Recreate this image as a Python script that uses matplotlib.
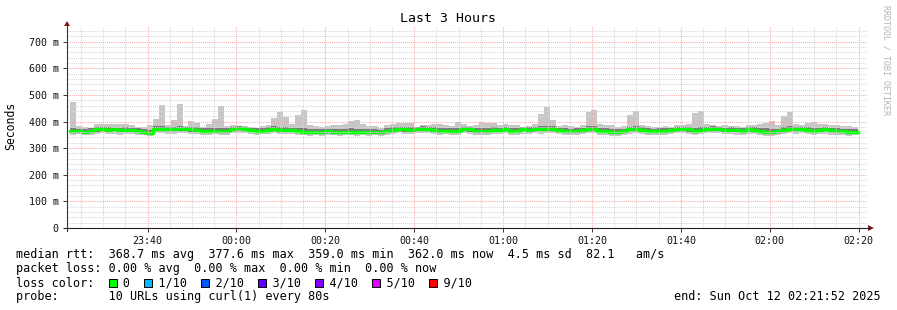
import matplotlib
matplotlib.use("Agg")
import matplotlib.pyplot as plt
from matplotlib.patches import Rectangle, Polygon
from matplotlib.lines import Line2D
import numpy as np

# ---------------- data (ms) ----------------
step_s = 80            # probe interval
first_step_s = 40      # first step start, seconds after window start (23:21:52)
window_min = 180

rtt_max = [472, 385, 380, 376, 390, 391, 391, 390, 390, 389,
           386, 380, 378, 388, 410, 462, 386, 406, 466, 385,
           403, 395, 380, 392, 410, 460, 382, 386, 385, 384,
           380, 376, 382, 388, 413, 436, 417, 391, 425, 444,
           388, 385, 380, 384, 388, 386, 391, 402, 404, 392,
           385, 382, 376, 386, 390, 394, 395, 393, 380, 386,
           388, 392, 390, 386, 385, 398, 392, 385, 387, 398,
           394, 395, 386, 390, 388, 386, 380, 385, 392, 428,
           455, 406, 385, 386, 382, 380, 386, 436, 443, 390,
           388, 386, 380, 382, 425, 440, 386, 384, 380, 378,
           382, 380, 386, 388, 390, 432, 440, 391, 388, 384,
           386, 382, 384, 380, 386, 388, 390, 395, 402, 388,
           421, 436, 392, 388, 394, 398, 390, 392, 388, 386,
           384, 382, 380]

rtt_hi = [374, 372, 370, 374, 378, 380, 378, 377, 376, 378,
          376, 374, 370, 368, 382, 384, 380, 381, 383, 380,
          380, 378, 375, 374, 376, 374, 374, 381, 382, 380,
          377, 374, 374, 378, 382, 380, 379, 377, 376, 374,
          371, 370, 370, 373, 372, 370, 371, 374, 372, 371,
          370, 371, 368, 374, 378, 381, 380, 379, 380, 382,
          381, 378, 376, 374, 375, 376, 381, 379, 375, 377,
          376, 378, 376, 381, 374, 375, 379, 378, 381, 384,
          384, 382, 377, 375, 373, 374, 377, 382, 384, 376,
          374, 372, 370, 372, 380, 382, 378, 375, 373, 376,
          374, 376, 381, 380, 379, 376, 378, 381, 382, 380,
          377, 378, 376, 375, 379, 378, 376, 374, 372, 373,
          379, 382, 380, 381, 378, 376, 377, 379, 376, 374,
          372, 371, 370]

rtt_median = [365, 364, 362, 366, 370, 371, 369, 370, 368, 369,
              367, 366, 361, 358, 372, 373, 371, 372, 374, 372,
              370, 369, 366, 365, 366, 364, 365, 373, 374, 371,
              368, 366, 365, 369, 370, 367, 368, 368, 365, 362,
              361, 360, 361, 363, 361, 360, 360, 362, 359, 361,
              360, 362, 359, 364, 368, 371, 370, 369, 371, 373,
              372, 368, 366, 365, 366, 364, 372, 370, 366, 365,
              366, 368, 367, 371, 364, 366, 370, 369, 372, 371,
              373, 372, 368, 366, 364, 365, 368, 371, 373, 366,
              364, 362, 361, 363, 370, 371, 368, 366, 364, 366,
              365, 367, 372, 371, 370, 366, 368, 372, 373, 371,
              368, 369, 367, 366, 370, 368, 366, 362, 361, 363,
              369, 371, 370, 372, 368, 366, 368, 370, 367, 365,
              363, 362, 362]

rtt_lo = [358, 356, 355, 358, 362, 364, 361, 363, 360, 362,
          360, 358, 354, 352, 364, 366, 363, 365, 366, 365,
          362, 361, 358, 357, 359, 356, 358, 366, 367, 363,
          361, 358, 358, 362, 363, 360, 360, 361, 357, 355,
          354, 353, 353, 356, 353, 352, 353, 355, 352, 354,
          353, 355, 352, 357, 361, 364, 362, 361, 364, 366,
          365, 360, 358, 358, 358, 356, 365, 362, 358, 357,
          359, 361, 360, 364, 356, 358, 363, 361, 365, 364,
          366, 364, 361, 358, 356, 357, 360, 364, 366, 358,
          356, 354, 353, 355, 363, 364, 360, 358, 356, 359,
          357, 360, 365, 364, 362, 358, 360, 365, 366, 364,
          361, 362, 359, 358, 363, 360, 358, 354, 353, 355,
          362, 364, 363, 365, 360, 358, 361, 363, 359, 357,
          355, 354, 355]

rtt_min = [350, 352, 349, 350, 354, 356, 353, 352, 350, 354,
           352, 350, 348, 346, 355, 356, 354, 352, 356, 357,
           354, 352, 350, 348, 352, 350, 351, 356, 358, 355,
           353, 350, 352, 354, 355, 352, 352, 353, 350, 348,
           346, 348, 347, 350, 348, 346, 348, 350, 347, 349,
           347, 350, 346, 350, 353, 356, 354, 352, 355, 356,
           355, 352, 350, 352, 350, 348, 356, 354, 350, 349,
           351, 353, 352, 355, 350, 351, 354, 352, 356, 354,
           357, 355, 352, 350, 349, 350, 352, 355, 356, 350,
           349, 347, 346, 348, 354, 356, 352, 350, 349, 351,
           350, 352, 356, 355, 353, 350, 352, 356, 357, 355,
           352, 353, 351, 350, 354, 352, 350, 347, 346, 348,
           353, 355, 354, 356, 352, 350, 352, 354, 351, 350,
           348, 347, 348]

y_ticks = [0, 100, 200, 300, 400, 500, 600, 700]
y_tick_labels = ["0", "100 m", "200 m", "300 m", "400 m", "500 m", "600 m", "700 m"]
x_tick_labels = ["23:40", "00:00", "00:20", "00:40", "01:00", "01:20", "01:40", "02:00", "02:20"]
first_tick_min = 18 + 8 / 60     # 23:40 relative to 23:21:52

legend_lines = [
    "median rtt:  368.7 ms avg  377.6 ms max  359.0 ms min  362.0 ms now  4.5 ms sd  82.1   am/s",
    "packet loss: 0.00 % avg  0.00 % max  0.00 % min  0.00 % now",
    "loss color:    0    1/10    2/10    3/10    4/10    5/10    9/10",
    "probe:       10 URLs using curl(1) every 80s",
]
loss_cols = [13, 18, 26, 34, 42, 50, 58]
loss_colors = ["#00ff00", "#00b8ff", "#0059ff", "#5e00ff", "#7e00ff", "#dd00ff", "#ff0000"]
end_text = "end: Sun Oct 12 02:21:52 2025"

# ---------------- figure ----------------
W, H = 897, 310
fig = plt.figure(figsize=(W / 100, H / 100), dpi=100)
fig.patch.set_facecolor("white")
MONO = "DejaVu Sans Mono"


def fx(px):
    return px / W


def fy(py):
    return 1 - py / H


L, R, T, B = 67, 867, 27, 228
ax = fig.add_axes([fx(L), fy(B), (R - L) / W, (B - T) / H])
ax.set_facecolor("white")
ax.set_xlim(0, window_min)
ax.set_ylim(0, 755)
for s in ax.spines.values():
    s.set_visible(False)

n = len(rtt_median)
edges = (first_step_s + step_s * np.arange(n + 1)) / 60.0


def ext(a):
    a = np.asarray(a, dtype=float)
    return np.append(a, a[-1])


ax.fill_between(edges, ext(rtt_min), ext(rtt_max), step="post",
                color="#c6c6c6", lw=0, zorder=1)
ax.fill_between(edges, ext(rtt_lo), ext(rtt_hi), step="post",
                color="#7c7c7c", lw=0, zorder=2)
ax.step(edges, ext(rtt_median), where="post", color="#00ff00", lw=2.4, zorder=4)

# grid
dot = (0, (1, 1))
for m in np.arange(first_tick_min - 15, window_min, 5):
    if m <= 0:
        continue
    major = abs(((m - first_tick_min) / 20) - round((m - first_tick_min) / 20)) < 1e-6
    ax.axvline(m, color="#ffa8a8" if major else "#d6d6d6", lw=0.75,
               ls=dot, zorder=5)
for v in range(20, 760, 20):
    major = v % 100 == 0
    ax.axhline(v, color="#ffa8a8" if major else "#d6d6d6", lw=0.75,
               ls=dot, zorder=5)

# ticks
x_ticks = [first_tick_min + 20 * i for i in range(len(x_tick_labels))]
ax.set_xticks(x_ticks)
ax.set_xticklabels(x_tick_labels, family=MONO, fontsize=7.2, color="#111")
ax.set_yticks(y_ticks)
ax.set_yticklabels(y_tick_labels, family=MONO, fontsize=7.2, color="#111")
ax.tick_params(axis="both", which="major", length=3, width=0.7, color="#333", pad=3)

# axis lines + arrows
fig.add_artist(Line2D([fx(L), fx(L)], [fy(B + 3), fy(23)], color="#333", lw=0.8))
fig.add_artist(Line2D([fx(L - 3), fx(870)], [fy(B), fy(B)], color="#222", lw=0.8))
fig.add_artist(Polygon([[fx(64), fy(26)], [fx(70), fy(26)], [fx(67), fy(21)]],
                       closed=True, color="#8b1a1a", lw=0))
fig.add_artist(Polygon([[fx(868), fy(225)], [fx(868), fy(231)], [fx(874), fy(228)]],
                       closed=True, color="#8b1a1a", lw=0))

# titles / labels
fig.text(fx(448), fy(19), "Last 3 Hours", family=MONO, fontsize=9.5,
         ha="center", va="center", color="#000")
fig.text(fx(11), fy(126), "Seconds", family=MONO, fontsize=8.3, rotation=90,
         ha="center", va="center", color="#000")
fig.text(fx(886), fy(5), "RRDTOOL / TOBI OETIKER", family=MONO, fontsize=6,
         rotation=270, ha="center", va="top", color="#b4b4b4")

# legend
fs = 8.5
cw = 0.602 * fs * 100 / 72
ys = [254.5, 268.5, 282.5, 296.5]
for txt, yy in zip(legend_lines, ys):
    fig.text(fx(16), fy(yy), txt, family=MONO, fontsize=fs, ha="left",
             va="center", color="#000")
for c, col in zip(loss_cols, loss_colors):
    x0 = 16 + c * cw + 0.3
    fig.add_artist(Rectangle((fx(x0), fy(286.5)), 8 / W, 8 / H,
                             facecolor=col, edgecolor="#000", lw=0.7))
fig.text(fx(881), fy(ys[3]), end_text, family=MONO, fontsize=fs, ha="right",
         va="center", color="#000")

fig.savefig("out.png", dpi=100, facecolor="white")
